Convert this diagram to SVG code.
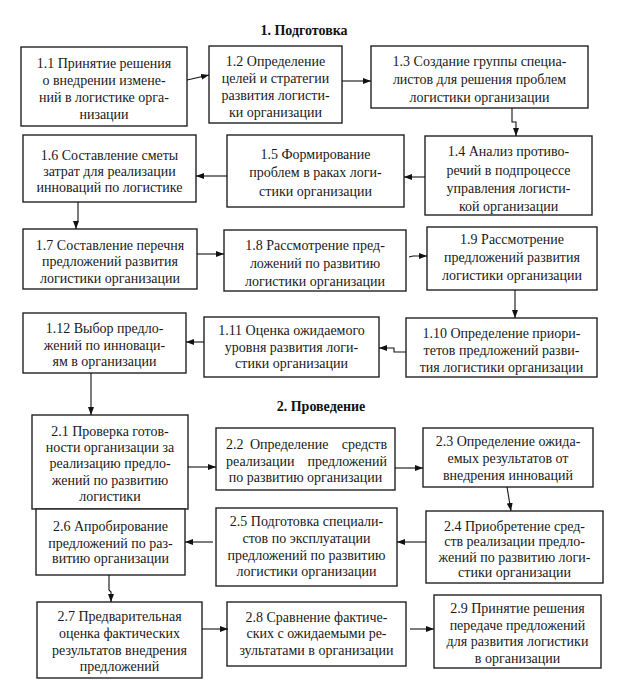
<svg xmlns="http://www.w3.org/2000/svg" width="619" height="681" viewBox="0 0 619 681">
<style>
.b{fill:#fff;stroke:#222;stroke-width:1.4}
.t{font-family:"Liberation Serif","Times New Roman",serif;font-size:14px;fill:#1a1a1a;text-anchor:middle}
.s{text-anchor:start}
.e{text-anchor:end}
.h{font-family:"Liberation Serif","Times New Roman",serif;font-size:14px;font-weight:bold;fill:#111;text-anchor:middle}
.c{fill:none;stroke:#111;stroke-width:1.1;marker-end:url(#ah)}
</style>
<defs>
<marker id="ah" viewBox="0 0 8 6" refX="8" refY="3" markerWidth="8" markerHeight="6" markerUnits="userSpaceOnUse" orient="auto">
<path d="M0,0 L8,3 L0,6 Z" fill="#111"/>
</marker>
</defs>
<rect width="619" height="681" fill="#fff"/>
<text class="h" x="304" y="35">1. Подготовка</text>
<text class="h" x="321" y="411">2. Проведение</text>

<g id="n1_1"><rect class="b" x="21" y="47" width="166" height="79"/>
<text class="t" x="104"><tspan x="104" y="67.5">1.1 Принятие решения</tspan><tspan x="104" y="84.5">о внедрении измене-</tspan><tspan x="104" y="101.5">ний в логистике орга-</tspan><tspan x="104" y="118.5">низации</tspan></text></g>
<g id="n1_2"><rect class="b" x="209" y="46" width="133" height="77"/>
<text class="t"><tspan x="275.5" y="66">1.2 Определение</tspan><tspan x="275.5" y="83">целей и стратегии</tspan><tspan x="275.5" y="100">развития логисти-</tspan><tspan x="275.5" y="117">ки организации</tspan></text></g>
<g id="n1_3"><rect class="b" x="371" y="46" width="217" height="62"/>
<text class="t"><tspan x="479.5" y="66">1.3 Создание группы специа-</tspan><tspan x="479.5" y="84">листов для решения проблем</tspan><tspan x="479.5" y="102">логистики организации</tspan></text></g>
<g id="n1_4"><rect class="b" x="425" y="136" width="167" height="79"/>
<text class="t"><tspan x="508.5" y="156">1.4 Анализ противо-</tspan><tspan x="508.5" y="174.5">речий в подпроцессе</tspan><tspan x="508.5" y="193">управления логисти-</tspan><tspan x="508.5" y="211">кой организации</tspan></text></g>
<g id="n1_5"><rect class="b" x="227" y="135" width="177" height="72"/>
<text class="t"><tspan x="315.5" y="158.5">1.5 Формирование</tspan><tspan x="315.5" y="177">проблем в раках логи-</tspan><tspan x="315.5" y="195.5">стики организации</tspan></text></g>
<g id="n1_6"><rect class="b" x="23" y="135" width="173" height="67"/>
<text class="t"><tspan x="109.5" y="159.5">1.6 Составление сметы</tspan><tspan x="109.5" y="176">затрат для реализации</tspan><tspan x="109.5" y="192">инноваций по логистике</tspan></text></g>
<g id="n1_7"><rect class="b" x="23" y="229" width="174" height="60"/>
<text class="t"><tspan x="110" y="249.5">1.7 Составление перечня</tspan><tspan x="110" y="266">предложений развития</tspan><tspan x="110" y="283">логистики организации</tspan></text></g>
<g id="n1_8"><rect class="b" x="224" y="230" width="182" height="61"/>
<text class="t"><tspan x="315" y="249.5">1.8 Рассмотрение пред-</tspan><tspan x="315" y="267.5">ложений по развитию</tspan><tspan x="315" y="285.5">логистики организации</tspan></text></g>
<g id="n1_9"><rect class="b" x="427" y="227" width="170" height="63"/>
<text class="t"><tspan x="512" y="243.5">1.9 Рассмотрение</tspan><tspan x="512" y="261.5">предложений развития</tspan><tspan x="512" y="280">логистики организации</tspan></text></g>
<g id="n1_10"><rect class="b" x="406" y="318" width="191" height="59"/>
<text class="t"><tspan x="501.5" y="338">1.10 Определение приори-</tspan><tspan x="501.5" y="355">тетов предложений разви-</tspan><tspan x="501.5" y="372">тия логистики организации</tspan></text></g>
<g id="n1_11"><rect class="b" x="204" y="317" width="175" height="60"/>
<text class="t"><tspan x="291.5" y="334.5">1.11 Оценка ожидаемого</tspan><tspan x="291.5" y="351.5">уровня развития логи-</tspan><tspan x="291.5" y="368">стики организации</tspan></text></g>
<g id="n1_12"><rect class="b" x="23" y="313" width="163" height="60"/>
<text class="t"><tspan x="104.5" y="333">1.12 Выбор предло-</tspan><tspan x="104.5" y="349.5">жений по инноваци-</tspan><tspan x="104.5" y="366">ям в организации</tspan></text></g>

<g id="n2_1"><rect class="b" x="32" y="415" width="156" height="94"/>
<text class="t"><tspan x="110" y="436">2.1 Проверка готов-</tspan><tspan x="110" y="452">ности организации за</tspan><tspan x="110" y="468">реализацию предло-</tspan><tspan x="110" y="484.5">жений по развитию</tspan><tspan x="110" y="501">логистики</tspan></text></g>
<g id="n2_2"><rect class="b" x="216" y="428" width="179" height="62"/>
<text class="t s" x="226" y="448.5">2.2</text><text class="t s" x="250" y="448.5">Определение</text><text class="t e" x="387" y="448.5">средств</text>
<text class="t s" x="226" y="465.5">реализации</text><text class="t e" x="387" y="465.5">предложений</text>
<text class="t" x="305.5" y="482">по развитию организации</text></g>
<g id="n2_3"><rect class="b" x="423" y="428" width="170" height="59"/>
<text class="t"><tspan x="508" y="446">2.3 Определение ожида-</tspan><tspan x="508" y="463">емых результатов от</tspan><tspan x="508" y="479.5">внедрения инноваций</tspan></text></g>
<g id="n2_4"><rect class="b" x="426" y="511" width="177" height="72"/>
<text class="t"><tspan x="514.5" y="530.5">2.4 Приобретение сред-</tspan><tspan x="514.5" y="546">ств реализации предло-</tspan><tspan x="514.5" y="561.5">жений по развитию логи-</tspan><tspan x="514.5" y="577">стики организации</tspan></text></g>
<g id="n2_5"><rect class="b" x="216" y="508" width="181" height="78"/>
<text class="t"><tspan x="306.5" y="526">2.5 Подготовка специали-</tspan><tspan x="306.5" y="543">стов по эксплуатации</tspan><tspan x="306.5" y="559.5">предложений по развитию</tspan><tspan x="306.5" y="576">логистики организации</tspan></text></g>
<g id="n2_6"><rect class="b" x="36" y="509" width="149" height="66"/>
<text class="t"><tspan x="110.5" y="531">2.6 Апробирование</tspan><tspan x="110.5" y="547.5">предложений по раз-</tspan><tspan x="110.5" y="563">витию организации</tspan></text></g>
<g id="n2_7"><rect class="b" x="37" y="602" width="165" height="76"/>
<text class="t"><tspan x="119.5" y="621">2.7 Предварительная</tspan><tspan x="119.5" y="638">оценка фактических</tspan><tspan x="119.5" y="654.5">результатов внедрения</tspan><tspan x="119.5" y="671">предложений</tspan></text></g>
<g id="n2_8"><rect class="b" x="227" y="602" width="179" height="64"/>
<text class="t"><tspan x="316.5" y="621.5">2.8 Сравнение фактиче-</tspan><tspan x="316.5" y="638">ских с ожидаемыми ре-</tspan><tspan x="316.5" y="654.5">зультатами в организации</tspan></text></g>
<g id="n2_9"><rect class="b" x="434" y="595" width="167" height="73"/>
<text class="t"><tspan x="517.5" y="613">2.9 Принятие решения</tspan><tspan x="517.5" y="629.5">передаче предложений</tspan><tspan x="517.5" y="646">для развития логистики</tspan><tspan x="517.5" y="662.5">в организации</tspan></text></g>

<g id="connectors">
<path class="c" d="M187,80 L209,75"/>
<path class="c" d="M342,81 L371,81"/>
<path class="c" d="M512,108 L512,122 L516,122 L516,136"/>
<path class="c" d="M425,177 L404,177"/>
<path class="c" d="M227,176 L196,176"/>
<path class="c" d="M78,202 L78,221 L76,222 L76,229"/>
<path class="c" d="M197,254 L224,254"/>
<path class="c" d="M409,257 L413,256 L427,256"/>
<path class="c" d="M515,290 L515,318"/>
<path class="c" d="M406,352 L394,352 L394,348 L379,348"/>
<path class="c" d="M204,342 L186,342"/>
<path class="c" d="M91,373 L91,415"/>
<path class="c" d="M188,467 L216,467"/>
<path class="c" d="M395,468 L423,468"/>
<path class="c" d="M507,487 L511,511"/>
<path class="c" d="M426,542 L397,542"/>
<path class="c" d="M213,542 L185,542"/>
<path class="c" d="M109,575 L109,590 L111,592 L111,602"/>
<path class="c" d="M202,629 L228,629"/>
<path class="c" d="M410,629 L434,629"/>
</g>
</svg>
